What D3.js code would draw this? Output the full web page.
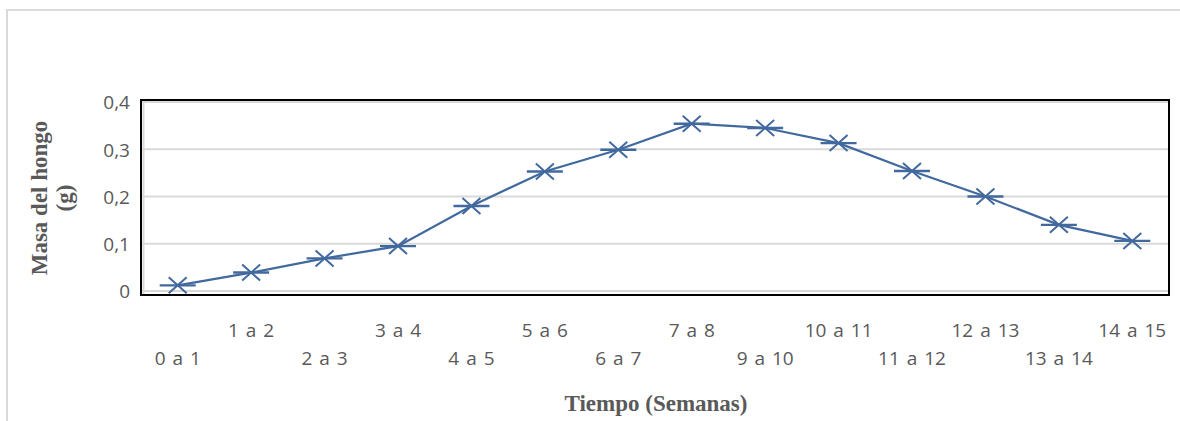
<!DOCTYPE html>
<html>
<head>
<meta charset="utf-8">
<script src="https://cdn.jsdelivr.net/npm/d3@7"></script>
<style>
  body { margin: 0; background: #fff; }
  svg { display: block; }
</style>
</head>
<body>
<div id="chart"></div>
<script>
// Weekly fungus mass
const categories = ["0 a 1", "1 a 2", "2 a 3", "3 a 4", "4 a 5", "5 a 6", "6 a 7",
  "7 a 8", "9 a 10", "10 a 11", "11 a 12", "12 a 13", "13 a 14", "14 a 15"];
const masses = [0.012, 0.039, 0.069, 0.095, 0.180, 0.253, 0.299,
  0.354, 0.345, 0.313, 0.254, 0.200, 0.140, 0.106];
const yTicks = [0, 0.1, 0.2, 0.3, 0.4];

const W = 1180, H = 421;
const plot = { left: 141, top: 100, right: 1169, bottom: 295 };
const lineColor = "#41699e";
const textGray = "#595959";

const svg = d3.select("#chart").append("svg")
  .attr("width", W).attr("height", H);

// outer chart frame (light gray, runs off right/bottom)
svg.append("rect")
  .attr("x", 7).attr("y", 10)
  .attr("width", W + 20).attr("height", H + 20)
  .attr("fill", "#fff")
  .attr("stroke", "#d9d9d9").attr("stroke-width", 2);

const x = d3.scaleBand()
  .domain(categories)
  .range([plot.left, plot.right]);

const y = d3.scaleLinear()
  .domain([0, 0.4])
  .range([291, 102]);

// Gridlines
svg.append("g")
  .selectAll("line")
  .data(yTicks)
  .join("line")
  .attr("x1", plot.left).attr("x2", plot.right)
  .attr("y1", d => y(d)).attr("y2", d => y(d))
  .attr("stroke", "#d9d9d9").attr("stroke-width", 2);

// inner gray left edge
svg.append("line")
  .attr("x1", plot.left + 2.5).attr("x2", plot.left + 2.5)
  .attr("y1", plot.top).attr("y2", plot.bottom)
  .attr("stroke", "#d9d9d9").attr("stroke-width", 2);

// plot area frame (black)
svg.append("rect")
  .attr("x", plot.left).attr("y", plot.top)
  .attr("width", plot.right - plot.left).attr("height", plot.bottom - plot.top)
  .attr("fill", "none")
  .attr("stroke", "#000").attr("stroke-width", 2);

// Y axis labels
const yAxis = svg.append("g")
  .attr("transform", `translate(${plot.left - 11},0)`)
  .call(d3.axisLeft(y).tickValues(yTicks).tickSize(0)
    .tickFormat(d => d === 0 ? "0" : d3.format(".1f")(d).replace(".", ",")));
yAxis.select(".domain").remove();
yAxis.selectAll("text")
  .attr("x", 0)
  .attr("dy", "0.36em")
  .style("font-family", "'Open Sans', sans-serif")
  .style("font-size", "19px")
  .attr("fill", textGray);

// X axis labels, staggered in two rows
svg.append("g")
  .selectAll("text")
  .data(categories)
  .join("text")
  .attr("x", d => x(d) + x.bandwidth() / 2)
  .attr("y", (d, i) => i % 2 ? 337 : 365)
  .attr("text-anchor", "middle")
  .style("font-family", "'Open Sans', sans-serif")
  .style("font-size", "19px")
  .style("word-spacing", "2px")
  .attr("fill", textGray)
  .text(d => d);

// Line
const pts = categories.map((c, i) => ({ c, v: masses[i] }));
const line = d3.line()
  .x(d => x(d.c) + x.bandwidth() / 2)
  .y(d => y(d.v));

svg.append("path")
  .datum(pts)
  .attr("fill", "none")
  .attr("stroke", lineColor)
  .attr("stroke-width", 2.2)
  .attr("d", line);

// Star markers (X + horizontal bar)
const mk = svg.append("g").selectAll("g")
  .data(pts)
  .join("g")
  .attr("transform", d => `translate(${x(d.c) + x.bandwidth() / 2},${y(d.v)})`)
  .attr("stroke", lineColor)
  .attr("stroke-width", 2);
mk.append("path").attr("d", "M-9,-8L9,8M-9,8L9,-8");
mk.append("path").attr("d", "M-18,0H18").attr("stroke-width", 2.4);

// Axis titles
const yt = svg.append("text")
  .attr("transform", "translate(47,198) rotate(-90)")
  .attr("text-anchor", "middle")
  .style("font-family", "'Liberation Serif', 'Times New Roman', serif")
  .style("font-weight", "bold")
  .style("font-size", "23px")
  .attr("fill", textGray);
yt.append("tspan").attr("x", 0).attr("dy", 0).text("Masa del hongo");
yt.append("tspan").attr("x", 0).attr("dy", 25).text("(g)");

svg.append("text")
  .attr("x", 656).attr("y", 411)
  .attr("text-anchor", "middle")
  .style("font-family", "'Liberation Serif', 'Times New Roman', serif")
  .style("font-weight", "bold")
  .style("font-size", "23px")
  .attr("fill", textGray)
  .text("Tiempo (Semanas)");
</script>
</body>
</html>
